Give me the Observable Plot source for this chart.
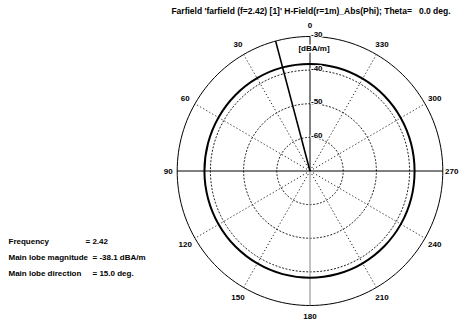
<!DOCTYPE html>
<html>
<head>
<meta charset="utf-8">
<script src="https://cdn.jsdelivr.net/npm/d3@7"></script>
<script src="https://cdn.jsdelivr.net/npm/@observablehq/plot@0.6"></script>
<style>
  html, body { margin: 0; padding: 0; background: #fff; }
  svg text { white-space: pre; }
</style>
</head>
<body>
<div id="chart"></div>
<script>
// ---- data ----
const titleText = "Farfield 'farfield (f=2.42) [1]' H-Field(r=1m)_Abs(Phi); Theta=   0.0 deg.";
const angleTicks = [0, 30, 60, 90, 120, 150, 180, 210, 240, 270, 300, 330];
const spokeAngles = [30, 60, 120, 150, 210, 240, 300, 330];
const ringLevels = [-60, -50, -40];
const radialTicks = [-30, -40, -50, -60];
const minLevel = -70;
const maxLevel = -30;
const unitLabel = "[dBA/m]";
const phi = [0, 15, 30, 45, 60, 75, 90, 105, 120, 135, 150, 165, 180, 195, 210, 225, 240, 255, 270, 285, 300, 315, 330, 345];
const hField = [-38.15, -38.1, -38.12, -38.15, -38.18, -38.2, -38.2, -38.22, -38.23, -38.24, -38.25, -38.25, -38.25, -38.28, -38.3, -38.35, -38.4, -38.45, -38.5, -38.48, -38.42, -38.35, -38.28, -38.2];
const mainLobeDir = 15.0;
const mainLobeMag = -38.1;
const frequency = 2.42;
const infoLabels = ["Frequency", "Main lobe magnitude", "Main lobe direction"];
const infoValues = [`= ${frequency}`, `= ${mainLobeMag} dBA/m`, `= ${mainLobeDir.toFixed(1)} deg.`];

// ---- helpers ----
const rad = d => d * Math.PI / 180;
const rn = db => (db - minLevel) / (maxLevel - minLevel);
const px = (a, r) => -r * Math.sin(rad(a));
const py = (a, r) => r * Math.cos(rad(a));
const circleSteps = d3.range(0, 361, 2);
const ring = lvl => circleSteps.map(a => ({a, r: rn(lvl)}));

const pattern = phi.map((a, i) => ({a, r: rn(hField[i])}));
const font = {fontFamily: "Liberation Sans, Arial, sans-serif", fontWeight: "bold", fontSize: 8, fill: "black"};

const cx = 309.5, cy = 170.5, Rx = 132.8, Ry = 134.5;
const W = 461, H = 326;
const infoX = [8, 85, 92, 92];
const infoDy = [70.5, 86.5, 102.5];

const marks = [
  ...ringLevels.map(l => Plot.line(ring(l), {x: d => px(d.a, d.r), y: d => py(d.a, d.r), stroke: "#222", strokeWidth: 1, strokeDasharray: "1.2,2.3"})),
  Plot.link(spokeAngles, {x1: 0, y1: 0, x2: a => px(a, 1), y2: a => py(a, 1), stroke: "#222", strokeWidth: 1, strokeDasharray: "1.2,2.3"}),
  Plot.line(ring(maxLevel), {x: d => px(d.a, d.r), y: d => py(d.a, d.r), stroke: "#000", strokeWidth: 1}),
  Plot.link([0], {x1: px(90, 1), y1: 0, x2: px(270, 1), y2: 0, stroke: "#000", strokeWidth: 1}),
  Plot.link([0], {x1: 0, y1: 0, x2: 0, y2: py(0, 1), stroke: "#000", strokeWidth: 1}),
  Plot.link([0], {x1: 0, y1: 0, x2: 0, y2: py(180, 1), stroke: "#999", strokeWidth: 1.2}),
  Plot.line(pattern, {x: d => px(d.a, d.r), y: d => py(d.a, d.r), curve: "catmull-rom-closed", stroke: "#000", strokeWidth: 2}),
  Plot.link([mainLobeDir], {x1: 0, y1: 0, x2: a => px(a, 1), y2: a => py(a, 1), stroke: "#000", strokeWidth: 1.6}),
  Plot.text(angleTicks, {
    x: a => px(a, a % 180 === 90 ? 1.067 : 1.085),
    y: a => py(a, a % 180 === 90 ? 1.067 : 1.085),
    text: a => String(a), textAnchor: "middle", lineAnchor: "middle", ...font
  }),
  Plot.text(radialTicks, {x: 0, y: v => rn(v), text: v => String(v), textAnchor: "start", lineAnchor: "middle", dx: 1, dy: -2, stroke: "white", strokeWidth: 2, ...font}),
  Plot.text([unitLabel], {frameAnchor: "top", dx: 4, dy: 12, lineAnchor: "middle", stroke: "white", strokeWidth: 3, ...font}),
  Plot.text([titleText], {frameAnchor: "top", dx: 1, dy: -25, lineAnchor: "middle", ...font, fontSize: 8.5}),
  ...infoLabels.map((t, i) => Plot.text([t], {frameAnchor: "left", dx: infoX[0] - (cx - Rx), dy: infoDy[i], textAnchor: "start", lineAnchor: "middle", ...font})),
  ...infoValues.map((t, i) => Plot.text([t], {frameAnchor: "left", dx: infoX[i + 1] - (cx - Rx), dy: infoDy[i], textAnchor: "start", lineAnchor: "middle", ...font}))
];

const chart = Plot.plot({
  width: W, height: H,
  marginLeft: cx - Rx, marginRight: W - (cx + Rx),
  marginTop: cy - Ry, marginBottom: H - (cy + Ry),
  x: {domain: [-1, 1], axis: null},
  y: {domain: [-1, 1], axis: null},
  style: {background: "white", overflow: "visible"},
  marks
});
document.getElementById("chart").appendChild(chart);
</script>
</body>
</html>
